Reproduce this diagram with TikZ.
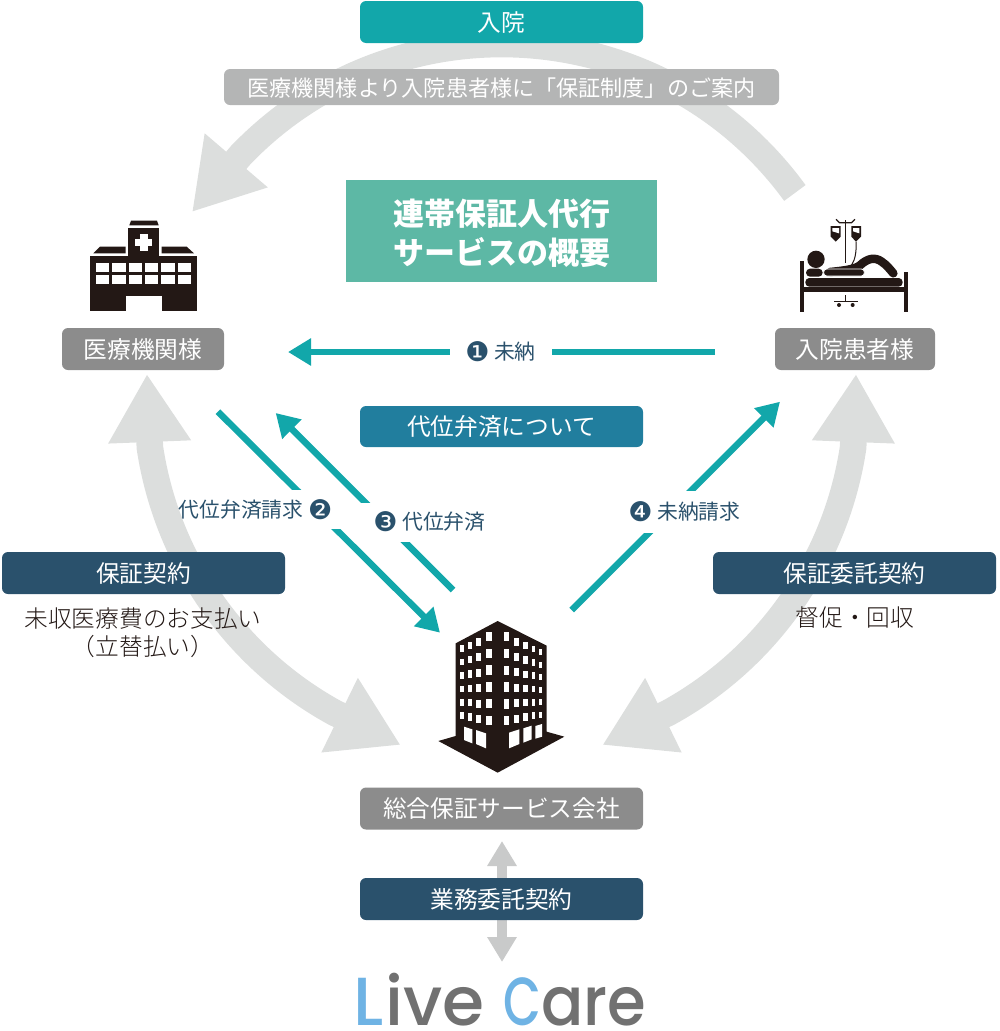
\documentclass[tikz,border=0pt]{standalone}
\usepackage{fontspec}
\usepackage{graphicx}
\setmainfont{Noto Sans CJK JP}
\newfontfamily\dejafont{DejaVu Sans}
\newfontfamily\logofont{Poppins Medium}
\newfontfamily\lightfont{Noto Sans CJK JP Light}
\usetikzlibrary{arrows.meta}
\definecolor{teal}{HTML}{12A7AA}
\definecolor{navy}{HTML}{2A516C}
\definecolor{midgrey}{HTML}{8C8C8C}
\definecolor{lightbox}{HTML}{B4B5B5}
\definecolor{sea}{HTML}{217E9E}
\definecolor{mint}{HTML}{5DB8A5}
\definecolor{arcgrey}{HTML}{DCDEDD}
\definecolor{dblgrey}{HTML}{C9CACA}
\definecolor{ink}{HTML}{231815}
\definecolor{logoblue}{HTML}{6FB3E4}
\definecolor{logogrey}{HTML}{717171}
\tikzset{
  labelbox/.style={rounded corners=6pt,inner sep=0pt,text=white,minimum height=42pt,
    text height=20pt,text depth=2pt,font=\fontsize{23.7}{28}\selectfont},
  bigarc/.style={draw=arcgrey,line width=26.6pt},
  tealarrow/.style={draw=teal,line width=6.5pt,-{Triangle[length=23pt,width=26pt,color=teal]}},
  arrowlabel/.style={text=navy,inner sep=0pt,text height=17pt,text depth=2pt,font=\fontsize{20.8}{24}\selectfont},
  plaintext/.style={text=ink,inner sep=0pt,align=center,font=\lightfont\fontsize{23.7}{28}\selectfont},
  iconscope/.style={x=0.33333pt,y=-0.33333pt,shift={(#1)}},
}
\newcommand{\numeral}[1]{\smash{\raisebox{-1.5pt}{\dejafont\fontsize{27}{24}\selectfont#1}}}
\newcommand{\arcpoints}[5]{%
  \pgfmathsetmacro\kk{4/3*tan((#5-#4)/4)*#3}%
  \coordinate (P0) at ({#1+#3*cos(#4)},{#2+#3*sin(#4)});
  \coordinate (P1) at ({#1+#3*cos(#4)-\kk*sin(#4)},{#2+#3*sin(#4)+\kk*cos(#4)});
  \coordinate (P2) at ({#1+#3*cos(#5)+\kk*sin(#5)},{#2+#3*sin(#5)-\kk*cos(#5)});
  \coordinate (P3) at ({#1+#3*cos(#5)},{#2+#3*sin(#5)});
}
\begin{document}
\begin{tikzpicture}[x=1pt,y=-1pt]
\useasboundingbox (0,0) rectangle (999,1031);
\coordinate (topTip) at (192,212);
\coordinate (leftTipUp) at (147,374);
\coordinate (leftTipDown) at (400.7,745);
\coordinate (rightTipUp) at (856,374);
\coordinate (rightTipDown) at (602.3,745);
\arcpoints{501.9}{406.6}{362.6}{-36.1}{-136}
\draw[bigarc,-{Triangle[length=68pt,width=78pt,color=arcgrey]}] (P0) .. controls (P1) and (P2) .. (P3) -- (topTip);
\arcpoints{510.6}{393.2}{364.8}{171.44}{118.9}
\draw[bigarc,{Triangle[length=68pt,width=78pt,color=arcgrey]}-{Triangle[length=68pt,width=78pt,color=arcgrey]}] (leftTipUp) -- (P0) .. controls (P1) and (P2) .. (P3) -- (leftTipDown);
\arcpoints{492.4}{393.2}{364.8}{8.56}{61.1}
\draw[bigarc,{Triangle[length=68pt,width=78pt,color=arcgrey]}-{Triangle[length=68pt,width=78pt,color=arcgrey]}] (rightTipUp) -- (P0) .. controls (P1) and (P2) .. (P3) -- (rightTipDown);

\coordinate (a1s) at (715,352); \coordinate (a1e) at (288,352);
\coordinate (a2s) at (218,411.7); \coordinate (a2e) at (440,632.7);
\coordinate (a3s) at (453,590); \coordinate (a3e) at (275.7,413);
\coordinate (a4s) at (571.7,610); \coordinate (a4e) at (780,401.7);
\draw[tealarrow] (a1s) -- (a1e);
\draw[tealarrow] (a2s) -- (a2e);
\draw[tealarrow] (a3s) -- (a3e);
\draw[tealarrow] (a4s) -- (a4e);
\fill[white] (285,490) rectangle (345,529);
\node[arrowlabel,fill=white,minimum width=102pt,minimum height=24pt] (l1) at (500.5,352) {\numeral{❶} 未納};
\node[arrowlabel] (l2) at (255.5,510) {代位弁済請求 \numeral{❷}};
\node[arrowlabel,fill=white,minimum width=143pt,minimum height=38.7pt] (l3) at (429.5,522.3) {\numeral{❸} 代位弁済};
\node[arrowlabel,fill=white,minimum width=110pt,minimum height=42pt] (l4) at (684.5,512) {\numeral{❹} 未納請求};

\coordinate (dblTop) at (502,841); \coordinate (dblBot) at (502,962);
\draw[dblgrey,line width=10pt,{Triangle[length=25pt,width=28pt,color=dblgrey]}-{Triangle[length=25pt,width=28pt,color=dblgrey]}] (dblTop) -- (dblBot);

\node[labelbox,fill=teal,minimum width=283pt] (nyuin) at (501.5,22) {入院};
\node[labelbox,fill=lightbox,minimum width=555pt,minimum height=36pt,font=\fontsize{22.1}{26}\selectfont] (annai) at (501.5,87) {医療機関様より入院患者様に「保証制度」のご案内};
\node[fill=mint,minimum width=311pt,minimum height=102pt,inner sep=0pt,text=white,align=center,font=\fontsize{31}{38.5}\selectfont\bfseries] (title) at (501.5,231) {\rule{0pt}{31pt}連帯保証人代行\\サービスの概要};
\node[labelbox,fill=midgrey,minimum width=162pt] (iryo) at (143,349) {医療機関様};
\node[labelbox,fill=midgrey,minimum width=160pt] (kanja) at (855,349) {入院患者様};
\node[labelbox,fill=sea,minimum width=283pt,minimum height=41pt] (daii) at (501.5,426.5) {代位弁済について};
\node[labelbox,fill=navy,minimum width=283pt] (hosho) at (143.5,573) {保証契約};
\node[labelbox,fill=navy,minimum width=283pt] (itaku) at (854.5,573) {保証委託契約};
\node[labelbox,fill=midgrey,minimum width=283pt] (sogo) at (501.5,808.5) {総合保証サービス会社};
\node[labelbox,fill=navy,minimum width=283pt] (gyomu) at (501.5,899) {業務委託契約};
\node[plaintext] (t1) at (143,633) {未収医療費のお支払い\\（立替払い）};
\node[plaintext] (t2) at (855,618) {督促・回収};

\begin{scope}[iconscope={60pt,-210pt}]
  \fill[ink] (90,137) rectangle (412,302);
  \fill[ink] (205,55) rectangle (298,140);
  \fill[ink] (208,46) -- (213,32) -- (291,32) -- (296,46) -- cycle;
  \fill[ink] (100,130) -- (120,110) -- (197,110) -- (197,130) -- cycle;
  \fill[ink] (305,110) -- (380,110) -- (402,130) -- (305,130) -- cycle;
  \fill[white] (198,258) rectangle (305,304);
  \fill[white] (240,72) rectangle (263,123);
  \fill[white] (225,86) rectangle (277,109);
  \foreach \i in {0,1,2,3,4,5}{
    \fill[white] ({108+\i*49},160) rectangle ({148+\i*49},187);
    \fill[white] ({108+\i*49},195) rectangle ({148+\i*49},223);
  }
\end{scope}

\begin{scope}[iconscope={780pt,-210pt}]
  \fill[ink] (60,152) rectangle (72,307);
  \fill[ink] (372,187) rectangle (384,307);
  \fill[ink] (72,231) rectangle (372,245);
  \fill[ink,rounded corners=4pt] (76,204) rectangle (368,230);
  \fill[ink] (108,148) circle[radius=26];
  \fill[ink,rounded corners=4pt] (78,176) rectangle (128,200);
  \draw[ink,line width=8.5pt,line cap=round,line join=round] (150,186) .. controls (190,182) and (225,178) .. (240,166) .. controls (262,145) and (285,140) .. (305,155) .. controls (320,165) and (330,178) .. (340,190);
  \draw[white,fill=ink,line width=.8pt,rounded corners=3pt] (131,177) rectangle (253,198);
  \draw[ink,line width=1.6pt] (197,30) -- (197,158);
  \draw[ink,line width=1.2pt] (168,28) -- (178,38) -- (215,38) -- (225,28);
  \fill[ink] (152,48) -- (182,48) -- (182,80) -- (167,95) -- (152,80) -- cycle;
  \fill[ink] (214,48) -- (243,48) -- (243,80) -- (228,95) -- (214,80) -- cycle;
  \fill[white] (157,54) -- (177,54) -- (177,70) -- (157,64) -- cycle;
  \fill[white] (219,54) -- (238,54) -- (238,70) -- (219,64) -- cycle;
  \draw[ink,line width=1pt] (228,95) .. controls (230,125) and (225,150) .. (215,165);
  \draw[ink,line width=1.4pt] (197,255) -- (197,275);
  \draw[ink,line width=1.6pt] (162,275) -- (235,275);
  \fill[ink] (177,285) circle[radius=6];
  \fill[ink] (218,285) circle[radius=6];
\end{scope}

\begin{scope}[iconscope={420pt,-610pt}]
  \fill[ink] (233,33) -- (380,107) -- (380,365) -- (433,380) -- (233,488) -- (55,393) -- (107,378) -- (107,100) -- cycle;
  \foreach \x/\w/\a/\b/\h in {126/10/116/317/20,150/12/106/321/22,176/15/95/327/24,207/17/80/331/28,259/17/80/332/28,290/15/95/326/24,316/13/107/321/22,340/11/117/317/20,360/9/126/314/18}{
    \foreach \r in {0,1,2,3,4,5}{
      \pgfmathsetmacro\yy{\a+\r*(\b-\a)/5}
      \fill[white] ({\x-\w/2},{\yy-\h/2}) rectangle ({\x+\w/2},{\yy+\h/2});
    }
  }
  \fill[white] (132,350) -- (157,358) -- (157,400) -- (132,390) -- cycle;
  \fill[white] (168,360) -- (198,370) -- (198,415) -- (168,402) -- cycle;
  \fill[white] (267,368) -- (298,358) -- (298,402) -- (267,415) -- cycle;
  \fill[white] (310,355) -- (335,347) -- (335,388) -- (310,398) -- cycle;
  \fill[white] (346,348) -- (366,342) -- (366,380) -- (346,386) -- cycle;
\end{scope}

\node[inner sep=0pt,anchor=base west,text height=48pt,text depth=0pt,font=\logofont\fontsize{68}{70}\selectfont,text=logogrey] (logoA) at (353,1025) {\textcolor{logoblue}{L}\kern2pt ive};
\node[inner sep=0pt,anchor=base west,text height=48pt,text depth=0pt,font=\logofont\fontsize{68}{70}\selectfont,text=logogrey] (logoB) at (503,1025) {\textcolor{logoblue}{\scalebox{.72}[1]{C}}\kern0pt\scalebox{.92}[1]{are}};
\end{tikzpicture}
\end{document}
